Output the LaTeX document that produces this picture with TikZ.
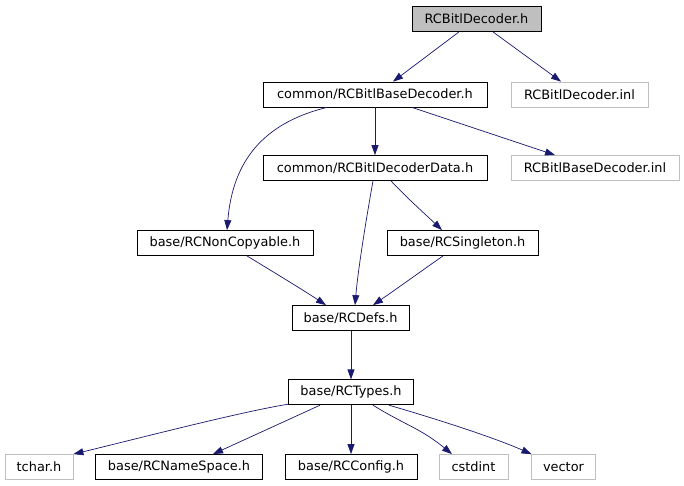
\documentclass[tikz,border=0pt]{standalone}
\usepackage{fontspec}
\setmainfont{DejaVu Sans}
\usetikzlibrary{arrows.meta}
\definecolor{edgeblue}{HTML}{191970}
\definecolor{extgray}{HTML}{BFBFBF}
\begin{document}
\begin{tikzpicture}[x=1pt,y=-1pt,
  box/.style={draw=black,line width=0.8pt,minimum height=25pt,inner sep=0pt,
    font=\fontsize{12.9}{14}\selectfont,text=black},
  extbox/.style={box,draw=extgray},
  edge/.style={draw=edgeblue,line width=0.7pt,
    -{Triangle[length=10pt,width=7pt,fill=edgeblue]}}]
\useasboundingbox[fill=white] (0,0) rectangle (684,485);
% nodes
\node[box,fill=extgray,minimum width=129pt] (dec) at (476.5,19) {RCBitlDecoder.h};
\node[box,minimum width=224pt] (bd) at (375,94.5) {common/RCBitlBaseDecoder.h};
\node[extbox,minimum width=137pt] (dinl) at (579.5,94.5) {RCBitlDecoder.inl};
\node[box,minimum width=224pt] (dd) at (375,168) {common/RCBitlDecoderData.h};
\node[extbox,minimum width=168pt] (bdinl) at (595,168) {RCBitlBaseDecoder.inl};
\node[box,minimum width=176pt] (nc) at (225,243) {base/RCNonCopyable.h};
\node[box,minimum width=151pt] (sg) at (462.5,243) {base/RCSingleton.h};
\node[box,minimum width=117pt] (defs) at (350.5,318) {base/RCDefs.h};
\node[box,minimum width=125pt] (types) at (351,392.3) {base/RCTypes.h};
\node[extbox,minimum width=68pt] (tchar) at (39,467) {tchar.h};
\node[box,minimum width=167pt] (ns) at (179,467) {base/RCNameSpace.h};
\node[box,minimum width=132pt] (cfg) at (351,467) {base/RCConfig.h};
\node[extbox,minimum width=69pt] (cstd) at (473.5,467) {cstdint};
\node[extbox,minimum width=64pt] (vec) at (563.5,467) {vector};
% edges
\draw[edge] ([xshift=-17.5pt]dec.south) -- ([xshift=18pt]bd.north);
\draw[edge] ([xshift=16.5pt]dec.south) -- ([xshift=-18.5pt]dinl.north);
\draw[edge] (bd.south) -- (dd.north);
\draw[edge] ([xshift=37pt]bd.south) -- ([xshift=-40pt]bdinl.north);
\draw[edge] ([xshift=-48pt]bd.south) .. controls (255,125) and (232,170) .. ([xshift=2pt]nc.north);
\draw[edge] ([xshift=-2pt]dd.south) .. controls (366,220) and (358,270) .. ([xshift=4.5pt]defs.north);
\draw[edge] ([xshift=16pt]dd.south) .. controls (405,196) and (425,214) .. ([xshift=-20.5pt]sg.north);
\draw[edge] ([xshift=22pt]nc.south) .. controls (270,270) and (300,288) .. ([xshift=-24.5pt]defs.north);
\draw[edge] ([xshift=-19.5pt]sg.south) .. controls (420,272) and (395,290) .. ([xshift=22.5pt]defs.north);
\draw[edge] ([xshift=0.5pt]defs.south) -- (types.north);
\draw[edge] ([yshift=1pt]types.south west) .. controls (240,412) and (140,438) .. (tchar.north east);
\draw[edge] ([xshift=-31pt]types.south) -- ([xshift=34pt]ns.north);
\draw[edge] (types.south) -- (cfg.north);
\draw[edge] ([xshift=22pt]types.south) .. controls (405,425) and (420,428) .. ([xshift=-21.5pt]cstd.north);
\draw[edge] ([xshift=38pt]types.south) .. controls (440,420) and (495,438) .. ([xshift=-32pt]vec.north);
\end{tikzpicture}
\end{document}
